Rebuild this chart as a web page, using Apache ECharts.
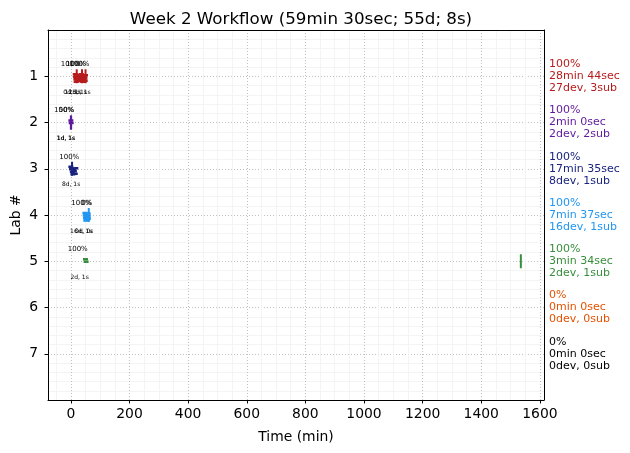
<!DOCTYPE html>
<html><head><meta charset="utf-8">
<script src="https://cdn.jsdelivr.net/npm/echarts@6/dist/echarts.min.js"></script>
<style>html,body{margin:0;padding:0;background:#fff}#c{width:630px;height:453px}</style>
</head><body><div id="c"></div>
<script>
// ---- data ----
const titleText = 'Week 2 Workflow (59min 30sec; 55d; 8s)';
const labs = [1, 2, 3, 4, 5, 6, 7];
const labColors = ['#b71c1c', '#5e1a9c', '#1a237e', '#2196f3', '#388e3c', '#e65100', '#000000'];
const devTimes = [
  [15, 16, 17, 18, 19, 21, 22, 23, 25, 26, 27, 29, 30, 31, 33, 34, 36, 37, 39, 40, 42, 43, 45, 46, 48, 49, 50],
  [0, 1],
  [0, 2, 5, 7, 10, 12, 15, 17],
  [48, 49, 50, 51, 52, 53, 54, 55, 55, 56, 57, 57, 58, 59, 59, 60],
  [50, 52],
  [],
  []
];
const subTimes = [
  [20, 38, 50],
  [0, 1],
  [4],
  [61],
  [1535],
  [],
  []
];
const labelTimes = [
  [20, 38, 50],
  [-3, -2],
  [15],
  [56, 60],
  [44],
  [],
  []
];
const scoreLabels = [
  ['100%', '100%', '100%'],
  ['100%', '50%'],
  ['100%'],
  ['100%', '0%'],
  ['100%'],
  [],
  []
];
const countLabels = [
  ['0d, 1s', '12d, 1s', '15d, 1s'],
  ['1d, 1s', '1d, 1s'],
  ['8d, 1s'],
  ['16d, 1s', '0d, 0s'],
  ['2d, 1s'],
  [],
  []
];
const summaryScore = ['100%', '100%', '100%', '100%', '100%', '0%', '0%'];
const summaryTime = ['28min 44sec', '2min 0sec', '17min 35sec', '7min 37sec', '3min 34sec', '0min 0sec', '0min 0sec'];
const summaryDevs = [27, 2, 8, 16, 2, 0, 0];
const summarySubs = [3, 2, 1, 1, 1, 0, 0];
const xTicks = [0, 200, 400, 600, 800, 1000, 1200, 1400, 1600];
const xMinorTicks = [-50, 50, 100, 150, 250, 300, 350, 450, 500, 550, 650, 700, 750, 850, 900, 950, 1050, 1100, 1150, 1250, 1300, 1350, 1450, 1500, 1550];
const xMin = -78, xMax = 1614;

// ---- build series data ----
const FONT = 'DejaVu Sans';
const devData = [], subData = [], lblData = [];
labs.forEach((lab, i) => {
  devTimes[i].forEach((t, k) => devData.push([t, lab, k, i]));
  subTimes[i].forEach((t) => subData.push([t, lab, i]));
  labelTimes[i].forEach((t, j) => lblData.push([t, lab, i, j]));
});

const rich = {};
labColors.forEach((c, i) => { rich['l' + i] = { color: c, fontSize: 11, lineHeight: 12, fontFamily: FONT, align: 'left' }; });

const chart = echarts.init(document.getElementById('c'), null, { renderer: 'canvas' });
chart.setOption({
  animation: false,
  backgroundColor: '#fff',
  textStyle: { fontFamily: FONT },
  title: {
    text: titleText, left: 296, top: 6, textAlign: 'center',
    textStyle: { fontFamily: FONT, fontSize: 16.7, fontWeight: 'normal', color: '#000' }
  },
  grid: { left: 48, right: 86, top: 30, bottom: 53, containLabel: false, outerBoundsMode: 'none' },
  xAxis: [
    {
      type: 'value', position: 'bottom', min: xMin, max: xMax,
      name: 'Time (min)', nameLocation: 'middle', nameGap: 30,
      nameTextStyle: { fontFamily: FONT, fontSize: 13.9, color: '#000' },
      axisLine: { show: true, onZero: false, lineStyle: { color: '#000', width: 1 } },
      axisTick: { show: true, inside: false, length: 3.5, customValues: xTicks, lineStyle: { color: '#000' } },
      axisLabel: { show: true, customValues: xTicks, margin: 7, fontFamily: FONT, fontSize: 13.9, color: '#000', formatter: (v) => String(v) },
      splitLine: { show: true, lineStyle: { color: '#b0b0b0', width: 0.8, type: [1, 2] } },
      minorTick: { show: false }, minorSplitLine: { show: false }
    },
    {
      type: 'value', position: 'top', min: xMin, max: xMax,
      axisLine: { show: true, onZero: false, lineStyle: { color: '#000', width: 1 } },
      axisTick: { show: false, customValues: xMinorTicks },
      axisLabel: { show: false },
      splitLine: { show: true, lineStyle: { color: '#f1f1f1', width: 0.8 } }
    }
  ],
  yAxis: [
    {
      type: 'value', position: 'left', min: 0, max: 8, interval: 1, inverse: true,
      name: 'Lab #', nameLocation: 'middle', nameGap: 25, nameRotate: 90, nameMoveOverlap: false,
      nameTextStyle: { fontFamily: FONT, fontSize: 13.9, color: '#000' },
      axisLine: { show: true, onZero: false, lineStyle: { color: '#000', width: 1 } },
      axisTick: { show: true, length: 3.5, customValues: labs, lineStyle: { color: '#000' } },
      axisLabel: { show: true, customValues: labs, margin: 10, fontFamily: FONT, fontSize: 13.9, color: '#000' },
      splitLine: { show: true, lineStyle: { color: '#b0b0b0', width: 0.8, type: [1, 2] } },
      minorTick: { show: false, splitNumber: 5 },
      minorSplitLine: { show: true, lineStyle: { color: '#f1f1f1', width: 0.8 } }
    },
    {
      type: 'value', position: 'right', min: 0, max: 8, interval: 1, inverse: true,
      axisLine: { show: true, onZero: false, lineStyle: { color: '#000', width: 1 } },
      axisTick: { show: false, customValues: labs },
      splitLine: { show: false },
      axisLabel: {
        show: true, customValues: labs, margin: 5, align: 'left',
        formatter: (v) => {
          const i = Math.round(v) - 1;
          if (i < 0 || i > 6) return '';
          const s = 'l' + i;
          return '{' + s + '|' + summaryScore[i] + '}\n{' + s + '|' + summaryTime[i] + '}\n{' + s + '|' + summaryDevs[i] + 'dev, ' + summarySubs[i] + 'sub}';
        },
        rich: rich
      }
    }
  ],
  series: [
    {
      type: 'custom', name: 'devs', xAxisIndex: 0, yAxisIndex: 0, clip: false,
      data: devData,
      renderItem: (params, api) => {
        const p = api.coord([api.value(0), api.value(1)]);
        const k = api.value(2), i = api.value(3);
        const y = p[1] - 2 + ((k * 5) % 16) * 0.5;
        return { type: 'rect', shape: { x: p[0] - 2.5, y: y - 1.25, width: 5, height: 2.5 }, style: { fill: labColors[i] } };
      }
    },
    {
      type: 'custom', name: 'subs', xAxisIndex: 0, yAxisIndex: 0, clip: false,
      data: subData,
      renderItem: (params, api) => {
        const p = api.coord([api.value(0), api.value(1)]);
        const i = api.value(2);
        return { type: 'rect', shape: { x: p[0] - 1, y: p[1] - 7, width: 2, height: 14 }, style: { fill: labColors[i] } };
      }
    },
    {
      type: 'custom', name: 'labels', xAxisIndex: 0, yAxisIndex: 0, clip: false,
      data: lblData,
      renderItem: (params, api) => {
        const p = api.coord([api.value(0), api.value(1)]);
        const i = api.value(2), j = api.value(3);
        return {
          type: 'group', children: [
            { type: 'text', style: { x: p[0] + 4, y: p[1] - 12, text: scoreLabels[i][j], fill: '#000', fontSize: 7, fontFamily: FONT, align: 'right', verticalAlign: 'middle' } },
            { type: 'text', style: { x: p[0] + 5, y: p[1] + 16, text: countLabels[i][j], fill: '#000', fontSize: 6, fontFamily: FONT, align: 'right', verticalAlign: 'middle' } }
          ]
        };
      }
    }
  ]
});
</script>
</body></html>
